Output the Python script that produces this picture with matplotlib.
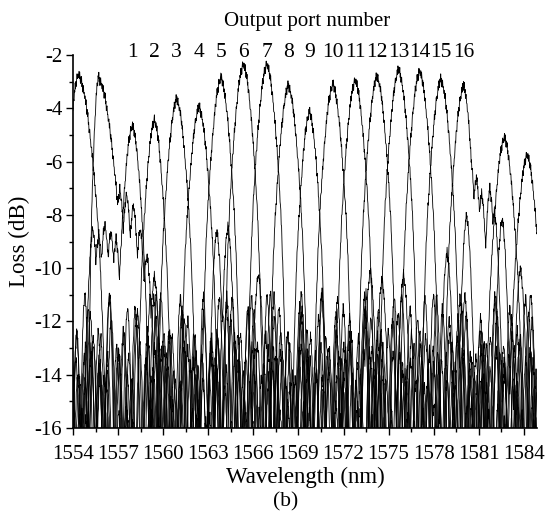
import numpy as np
import matplotlib
matplotlib.use("Agg")
import matplotlib.pyplot as plt
from matplotlib.ticker import MultipleLocator, FuncFormatter

# peaks: two edge peaks, ports 1-16, two edge peaks
peak_nm = [1554.33, 1555.67, 1557.93, 1559.40, 1560.89, 1562.38, 1563.83, 1565.33,
           1566.89, 1568.33, 1569.73, 1571.29, 1572.78, 1574.23, 1575.67, 1577.07,
           1578.49, 1580.00, 1582.71, 1584.23]
peak_db = [-2.68, -2.80, -4.60, -4.40, -3.60, -3.90, -2.80, -2.30, -2.30, -3.10,
           -4.10, -3.05, -2.90, -2.75, -2.50, -2.56, -2.87, -3.10, -5.05, -5.70]
# flank width factors (left, right)
left_w = [0.9, 0.5, 0.9, 0.9, 1.0, 1.0, 1.0, 1.0, 1.0, 1.0,
          0.9, 1.0, 1.0, 1.0, 1.0, 1.0, 1.0, 1.0, 1.0, 1.0]
right_w = [1.4, 1.5, 0.9, 0.9, 1.0, 1.0, 1.0, 1.0, 1.0, 1.0,
           0.9, 1.0, 1.0, 1.0, 1.0, 1.0, 1.0, 0.8, 1.0, 1.0]
port_labels = [str(i) for i in range(1, 17)]

# passband shape (offset nm, drop dB)
lobe_off = [0, 0.15, 0.3, 0.45, 0.6, 0.75, 0.9, 1.0, 1.1, 1.2, 1.3, 1.4, 1.5, 1.7]
lobe_drop = [0, -0.3, -0.8, -1.6, -2.6, -3.8, -5.2, -6.5, -8.2, -10.3, -12.8, -15.5, -18.5, -25]

# crosstalk shape and levels
bump_off = [0, 0.08, 0.16, 0.25, 0.4, 0.6]
bump_drop = [0, -0.6, -1.8, -4.0, -9.0, -16.0]
side_off = [1.8, 2.7, 3.7, 4.6, 5.5, 6.5, 7.4, 8.3, 9.3, 10.2, 11.1, 12.1, 13.0,
            13.9, 14.9, 15.8, 16.7, 17.7, 18.6, 19.5, 20.5, 21.4, 22.3, 23.3,
            24.2, 25.1, 26.1, 27.0, 27.9, 28.9, 29.8, 30.7]
side_db = [-13.2, -15.6, -11.6, -17.4, -17.8, -12.4, -13.9, -16.9, -11.0, -18.8,
           -12.9, -18.0, -13.5, -17.1, -15.3, -14.1, -11.4, -17.4, -13.0, -18.6,
           -12.3, -16.8, -13.7, -10.9, -17.9, -12.8, -17.6, -13.4, -15.0, -18.2,
           -14.3, -11.8, -16.5, -13.1, -18.2, -12.5, -14.0]

# shoulders / stray bumps seen in the picture: (curve, nm, dB)
extra = [(1, 1557.10, -7.0), (1, 1557.55, -7.2), (1, 1558.00, -7.6), (1, 1558.45, -8.5),
         (1, 1558.90, -9.5), (1, 1559.40, -10.3),
         (2, 1555.30, -8.5), (2, 1555.70, -8.7), (2, 1556.10, -8.3), (2, 1556.50, -8.6),
         (2, 1556.85, -8.9),
         (3, 1559.67, -7.6), (4, 1561.10, -8.4),
         (9, 1563.56, -8.6), (9, 1564.30, -8.4),
         (17, 1580.45, -5.7), (17, 1580.85, -6.6), (17, 1581.20, -7.2), (17, 1581.75, -7.0),
         (17, 1582.05, -7.9),
         (18, 1582.98, -6.2), (16, 1580.20, -8.0), (16, 1579.10, -9.4),
         (15, 1578.90, -9.4), (13, 1576.00, -10.2), (12, 1574.56, -10.4),
         (19, 1583.90, -9.3), (19, 1582.56, -8.1), (14, 1583.78, -10.0),
         (11, 1570.90, -10.9), (12, 1571.78, -10.9), (8, 1567.67, -11.2),
         (15, 1573.78, -10.1), (6, 1566.33, -10.2)]

ripple = [0.0, 0.14, -0.09, 0.19, 0.03, -0.17, 0.11, -0.05, 0.2, -0.12, 0.07,
          -0.2, 0.05, 0.16, -0.07, 0.02, -0.15]

plt.rcParams['font.family'] = ['Liberation Serif', 'DejaVu Serif']

wl = np.arange(1553.5, 1585.6, 0.025)
rip = np.array(ripple)


def spectrum(k):
    c, p = peak_nm[k], peak_db[k]
    d = wl - c
    scale = np.where(d < 0, left_w[k], right_w[k])
    y = p + np.interp(np.abs(d) / scale, lobe_off, lobe_drop)
    n = len(side_db)
    for j, off in enumerate(side_off):
        for sgn in (-1, 1):
            lev = side_db[(7 * k + 3 * j + (sgn > 0) * 11) % n]
            yb = lev + np.interp(np.abs(wl - (c + sgn * off)), bump_off, bump_drop)
            y = np.maximum(y, yb)
    for kk, bc, bl in extra:
        if kk == k:
            yb = bl + np.interp(np.abs(wl - bc), [0, 0.1, 0.2, 0.3, 0.45, 0.7],
                                [0, -0.4, -1.2, -2.5, -5, -12])
            y = np.maximum(y, yb)
    idx = (np.arange(len(wl)) + 5 * k) % len(rip)
    return y + rip[idx]


fig = plt.figure(figsize=(5.47, 5.21), dpi=100)
ax = fig.add_axes([0.134, 0.1785, 0.848, 0.7155])

for k in range(len(peak_nm)):
    ax.plot(wl, spectrum(k), color='black', lw=0.6)

ax.set_xlim(1554, 1584.9)
ax.set_ylim(-16, -2)
ax.xaxis.set_major_locator(MultipleLocator(3))
ax.xaxis.set_minor_locator(MultipleLocator(1.5))
ax.yaxis.set_major_locator(MultipleLocator(2))
ax.yaxis.set_minor_locator(MultipleLocator(1))
ax.yaxis.set_major_formatter(FuncFormatter(lambda v, pos: '%d' % v))
ax.xaxis.set_major_formatter(FuncFormatter(lambda v, pos: '%d' % v))
ax.tick_params(which='major', direction='out', length=5, width=1, labelsize=15, pad=7)
ax.tick_params(axis='y', which='major', pad=3)
ax.tick_params(which='minor', direction='out', length=3, width=1)
for s in ['top', 'right']:
    ax.spines[s].set_visible(False)
for s in ['left', 'bottom']:
    ax.spines[s].set_linewidth(1.2)

for k, lab in enumerate(port_labels):
    ax.text(peak_nm[k + 2], -1.9, lab, ha='center', va='center', fontsize=15.5, clip_on=False)

fig.text(0.561, 0.958, 'Output port number', ha='center', va='center', fontsize=15)
fig.text(0.036, 0.537, 'Loss (dB)', ha='center', va='center', rotation=90, fontsize=16.5)
fig.text(0.558, 0.083, 'Wavelength (nm)', ha='center', va='center', fontsize=16.5)
fig.text(0.523, 0.036, '(b)', ha='center', va='center', fontsize=15.5)

fig.savefig('out.png', dpi=100)
